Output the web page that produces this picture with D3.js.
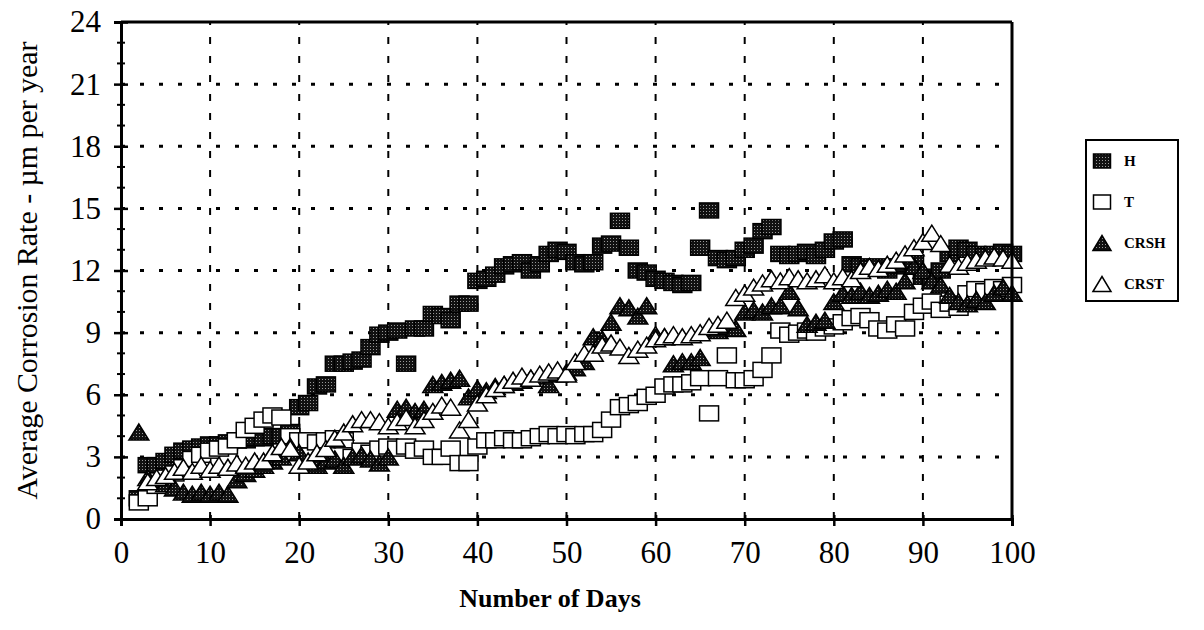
<!DOCTYPE html>
<html><head><meta charset="utf-8">
<script src="https://cdn.jsdelivr.net/npm/d3@7"></script>
<style>body{margin:0;background:#fff;} svg{display:block;} text{font-family:"Liberation Serif","Times New Roman",serif;fill:#000;}</style>
</head><body>
<svg id="c" width="1204" height="630"></svg>
<script>
// ---- data ----
const hDays = [2,3,4,5,6,7,8,9,10,11,12,13,14,15,16,17,18,19,20,21,22,23,24,25,26,27,28,29,30,31,32,33,34,35,36,37,38,39,40,41,42,43,44,45,46,47,48,49,50,51,52,53,54,55,56,57,58,59,60,61,62,63,64,65,66,67,68,69,70,71,72,73,74,75,76,77,78,79,80,81,82,83,84,85,86,87,88,89,90,91,92,93,94,95,96,97,98,99,100];
const hVals = [1.0,2.6,2.6,2.8,3.1,3.3,3.4,3.5,3.6,
  3.6,3.7,3.8,3.8,3.9,3.9,4.0,4.0,4.2,5.4,
  5.6,6.4,6.5,7.5,7.5,7.6,7.7,8.3,8.9,9.0,
  9.1,7.5,9.2,9.2,9.9,9.8,9.6,10.4,10.4,11.5,
  11.6,11.8,12.2,12.3,12.4,12.0,12.3,12.8,13.0,12.9,
  12.4,12.3,12.4,13.2,13.3,14.4,13.1,12.0,11.9,11.6,
  11.5,11.4,11.3,11.4,13.1,14.9,12.6,12.5,12.6,13.0,
  13.2,13.9,14.1,12.8,12.7,12.8,12.9,12.7,13.0,13.4,
  13.5,12.3,12.2,12.1,12.2,12.0,12.2,12.3,12.4,11.7,
  11.5,12.0,12.8,13.1,13.0,12.8,12.7,12.8,12.9,12.8];
const tDays = hDays;
const tVals = [0.8,1.0,1.6,2.0,2.2,2.5,2.9,3.1,3.3,
  3.4,3.5,3.8,4.3,4.5,4.8,5.0,4.9,4.0,3.8,
  3.8,3.7,3.8,3.9,3.8,3.0,3.3,3.2,3.4,3.5,
  3.4,3.5,3.3,3.4,3.0,3.0,3.4,2.7,2.7,3.5,
  3.8,3.8,3.9,3.8,3.8,3.9,4.0,4.1,4.0,4.1,
  4.0,4.1,4.1,4.3,4.8,5.4,5.5,5.6,5.9,6.0,
  6.4,6.5,6.5,6.6,6.8,5.1,6.8,7.9,6.7,6.7,
  6.8,7.2,7.9,9.1,8.9,9.0,9.1,9.0,9.2,9.3,
  9.5,9.7,9.8,9.6,9.2,9.1,9.4,9.2,10.0,10.3,
  10.5,10.1,10.4,10.2,10.9,11.1,11.0,11.2,11.1,11.3];
const crshDays = hDays;
const crshVals = [4.2,2.0,1.9,1.7,1.5,1.3,1.2,1.3,1.2,
  1.3,1.2,1.9,2.2,2.4,2.6,2.8,3.0,3.5,3.2,
  2.6,2.6,2.8,2.9,2.6,3.0,3.1,2.9,2.7,3.0,
  5.3,5.4,5.2,5.3,6.5,6.6,6.7,6.8,5.9,6.3,
  6.2,6.4,6.5,6.6,6.7,6.8,6.9,6.5,7.0,7.1,
  7.3,7.6,8.8,8.7,9.5,10.3,10.2,9.8,10.3,8.9,
  8.8,7.5,7.6,7.6,7.8,9.2,9.1,9.3,9.2,10.0,
  10.1,10.0,10.3,10.3,11.0,10.2,9.4,9.5,9.6,10.5,
  10.9,10.8,11.0,10.8,10.9,11.1,11.0,11.5,12.2,12.0,
  11.5,11.3,10.8,10.5,10.4,10.6,10.5,10.9,11.2,10.9];
const crstDays = [3,4,5,6,7,8,9,10,11,12,13,14,15,16,17,18,19,20,21,22,23,24,25,26,27,28,29,30,31,32,33,34,35,36,37,38,39,40,41,42,43,44,45,46,47,48,49,50,51,52,53,54,55,56,57,58,59,60,61,62,63,64,65,66,67,68,69,70,71,72,73,74,75,76,77,78,79,80,81,82,83,84,85,86,87,88,89,90,91,92,93,94,95,96,97,98,99,100];
const crstVals = [1.8,2.0,2.1,2.3,2.5,2.3,2.6,2.4,
  2.6,2.5,2.7,2.6,2.8,2.8,3.2,3.5,3.4,2.6,
  2.8,3.2,3.4,3.9,4.2,4.6,4.8,4.8,4.7,4.5,
  4.7,4.9,4.5,4.8,5.2,5.5,5.4,4.3,4.8,5.6,
  6.0,6.3,6.5,6.7,6.9,6.8,7.0,7.1,7.2,7.0,
  7.6,8.0,8.0,8.4,8.5,8.3,7.9,8.2,8.4,8.7,
  8.8,8.9,8.8,8.9,9.0,9.3,9.4,9.6,10.7,10.9,
  11.2,11.4,11.6,11.5,11.7,11.6,11.5,11.6,11.8,11.5,
  11.7,11.6,12.0,12.2,12.1,12.3,12.5,12.8,13.1,13.4,
  13.8,13.3,12.3,12.2,12.4,12.5,12.6,12.7,12.6,12.5];
const xTicks = [0,10,20,30,40,50,60,70,80,90,100];
const yTicks = [0,3,6,9,12,15,18,21,24];
const yMinor = [1,2,4,5,7,8,10,11,13,14,16,17,19,20,22,23];
const seriesNames = ["H","T","CRSH","CRST"];

// ---- layout ----
const svg = d3.select("#c");
const L = 121, R = 1012, T = 22, B = 519;
const x = d3.scaleLinear().domain([0,100]).range([L,R]);
const y = d3.scaleLinear().domain([0,24]).range([B,T]);

const defs = svg.append("defs");
const pat = defs.append("pattern").attr("id","hpat").attr("width",3).attr("height",3).attr("patternUnits","userSpaceOnUse");
pat.append("rect").attr("width",3).attr("height",3).attr("fill","#111");
pat.append("rect").attr("x",1).attr("y",1).attr("width",1).attr("height",1).attr("fill","#999");

// gridlines
svg.append("g").selectAll("line").data(yTicks.filter(v=>v>0&&v<24)).join("line")
  .attr("x1",L).attr("x2",R).attr("y1",d=>y(d)).attr("y2",d=>y(d))
  .attr("stroke","#000").attr("stroke-width",3).attr("stroke-dasharray","4 15");
svg.append("g").selectAll("line").data(xTicks.filter(v=>v>0&&v<100)).join("line")
  .attr("x1",d=>x(d)).attr("x2",d=>x(d)).attr("y1",B).attr("y2",T)
  .attr("stroke","#000").attr("stroke-width",2).attr("stroke-dasharray","7 12");

// markers
const SW=19, SH=15, TW=20, TH=16;
function squares(days, vals, fill){
  svg.append("g").selectAll("rect").data(days.map((d,i)=>[d,vals[i]])).join("rect")
    .attr("x",d=>x(d[0])-SW/2).attr("y",d=>y(d[1])-SH/2).attr("width",SW).attr("height",SH)
    .attr("fill",fill).attr("stroke","#000").attr("stroke-width",1.5);
}
function tris(days, vals, fill){
  svg.append("g").selectAll("path").data(days.map((d,i)=>[d,vals[i]])).join("path")
    .attr("d",d=>{const cx=x(d[0]), cy=y(d[1]); return `M${cx-TW/2},${cy+TH/2}L${cx},${cy-TH/2}L${cx+TW/2},${cy+TH/2}Z`;})
    .attr("fill",fill).attr("stroke","#000").attr("stroke-width",1.5).attr("stroke-linejoin","miter");
}
squares(hDays,hVals,"url(#hpat)");
squares(tDays,tVals,"#fff");
tris(crshDays,crshVals,"url(#hpat)");
tris(crstDays,crstVals,"#fff");

// frame (top/right)
svg.append("line").attr("x1",L).attr("x2",R).attr("y1",T).attr("y2",T).attr("stroke","#000").attr("stroke-width",3);
svg.append("line").attr("x1",R).attr("x2",R).attr("y1",T).attr("y2",B).attr("stroke","#000").attr("stroke-width",3);

// axes
const ya = svg.append("g").attr("transform",`translate(${L},0)`)
  .call(d3.axisLeft(y).tickValues(yTicks).tickSize(7).tickPadding(13).tickFormat(d3.format("d")));
ya.select(".domain").attr("stroke-width",3);
ya.selectAll(".tick line").attr("x1",-7).attr("x2",7).attr("stroke-width",2.5);
ya.selectAll(".tick text").style("font-size","31px").style("font-family","Liberation Serif");
svg.append("g").selectAll("line").data(yMinor).join("line")
  .attr("x1",L-4).attr("x2",L+4).attr("y1",d=>y(d)).attr("y2",d=>y(d)).attr("stroke","#000").attr("stroke-width",2);

const xa = svg.append("g").attr("transform",`translate(0,${B})`)
  .call(d3.axisBottom(x).tickValues(xTicks).tickSize(7).tickPadding(15).tickFormat(d3.format("d")));
xa.select(".domain").attr("stroke-width",3);
xa.selectAll(".tick line").attr("y1",-4).attr("y2",7).attr("stroke-width",2.5);
xa.selectAll(".tick text").style("font-size","31px").style("font-family","Liberation Serif");

// titles
svg.append("text").attr("x",550).attr("y",607).attr("text-anchor","middle")
  .style("font-size","26px").style("font-weight","bold").text("Number of Days");
svg.append("text").attr("transform",`translate(37,${(T+B)/2}) rotate(-90)`).attr("text-anchor","middle")
  .attr("textLength",458).attr("lengthAdjust","spacingAndGlyphs")
  .style("font-size","29px").text("Average Corrosion Rate - µm per year");

// legend
const lg = svg.append("g");
lg.append("rect").attr("x",1086).attr("y",140).attr("width",92).attr("height",161)
  .attr("fill","#fff").attr("stroke","#000").attr("stroke-width",2);
const rows = [161,202,243,284];
const lx = 1102;
const LSW=17, LSH=14, LTW=18, LTH=15;
seriesNames.forEach((n,i)=>{
  const cy = rows[i];
  if(i<2){
    lg.append("rect").attr("x",lx-LSW/2).attr("y",cy-LSH/2).attr("width",LSW).attr("height",LSH)
      .attr("fill",i==0?"url(#hpat)":"#fff").attr("stroke","#000").attr("stroke-width",1.5);
  } else {
    lg.append("path").attr("d",`M${lx-LTW/2},${cy+LTH/2}L${lx},${cy-LTH/2}L${lx+LTW/2},${cy+LTH/2}Z`)
      .attr("fill",i==2?"url(#hpat)":"#fff").attr("stroke","#000").attr("stroke-width",1.5);
  }
  lg.append("text").attr("x",1124).attr("y",cy+5).style("font-size","15px").style("font-weight","bold").text(n);
});
</script>
</body></html>
